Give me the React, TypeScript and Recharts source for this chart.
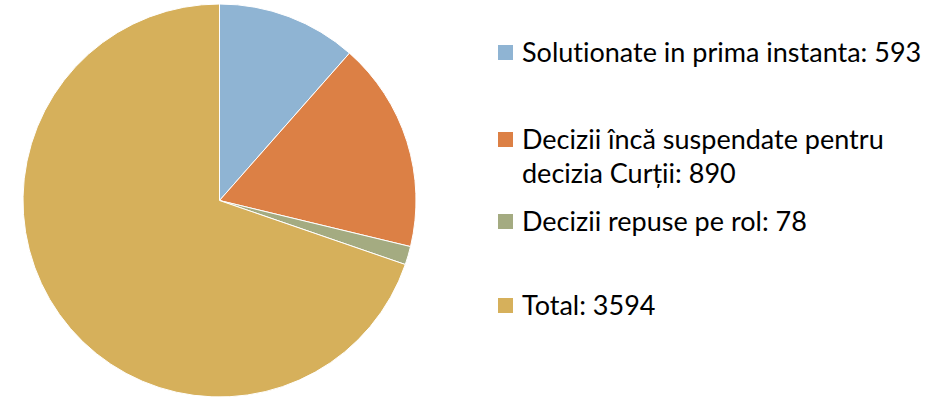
import React from 'react';
import { PieChart, Pie, Cell, Legend } from 'recharts';

const categories = [
  'Solutionate in prima instanta',
  'Decizii încă suspendate pentru decizia Curții',
  'Decizii repuse pe rol',
  'Total',
];
const values = [593, 890, 78, 3594];
const colors = ['#8FB4D3', '#DC8045', '#A4AB81', '#D6B05B'];

const data = categories.map((name, i) => ({ name, value: values[i] }));

const FONT = 'Lato, "Noto Sans", sans-serif';
const FONT_SIZE = 27;
const TEXT_X = 522;
const SQUARE_X = 498;
const SQUARE = 15;
const LINE_H = 34;
const BASELINES = [62, 149, 231, 315];
const MAX_W = 405;

function wrap(text: string): string[] {
  let ctx: CanvasRenderingContext2D | null = null;
  try {
    ctx = document.createElement('canvas').getContext('2d');
  } catch (e) {
    ctx = null;
  }
  const measure = (s: string) => {
    if (ctx) {
      ctx.font = `${FONT_SIZE}px ${FONT}`;
      return ctx.measureText(s).width;
    }
    return s.length * FONT_SIZE * 0.5;
  };
  const words = text.split(' ');
  const lines: string[] = [];
  let cur = '';
  for (const w of words) {
    const t = cur ? cur + ' ' + w : w;
    if (measure(t) > MAX_W && cur) {
      lines.push(cur);
      cur = w;
    } else {
      cur = t;
    }
  }
  if (cur) lines.push(cur);
  return lines;
}

const LegendContent = () => (
  <svg width={929} height={402} style={{ position: 'absolute', left: 0, top: 0 }}>
    {data.map((d, i) => {
      const lines = wrap(`${d.name}: ${d.value}`);
      const b = BASELINES[i];
      return (
        <g key={d.name}>
          <rect x={SQUARE_X} y={b - SQUARE - 2} width={SQUARE} height={SQUARE} fill={colors[i]} />
          {lines.map((l, j) => (
            <text
              key={j}
              x={TEXT_X}
              y={b + j * LINE_H}
              fontFamily={FONT}
              fontSize={FONT_SIZE}
              fill="#000"
              style={{ fontVariantLigatures: 'none' }}
            >
              {l}
            </text>
          ))}
        </g>
      );
    })}
  </svg>
);

export default function App() {
  return (
    <div style={{ position: 'absolute', left: 0, top: 0, width: 929, height: 402, background: '#fff' }}>
      <PieChart width={929} height={402} margin={{ top: 0, right: 0, bottom: 0, left: 0 }}>
        <Pie
          data={data}
          dataKey="value"
          nameKey="name"
          cx={219.5}
          cy={200.5}
          outerRadius={196.5}
          startAngle={90}
          endAngle={-270}
          stroke="#ffffff"
          strokeWidth={1}
          isAnimationActive={false}
        >
          {data.map((d, i) => (
            <Cell key={d.name} fill={colors[i]} />
          ))}
        </Pie>
        <Legend
          content={<LegendContent />}
          wrapperStyle={{ position: 'absolute', left: 0, top: 0, width: 929, height: 402 }}
        />
      </PieChart>
    </div>
  );
}
